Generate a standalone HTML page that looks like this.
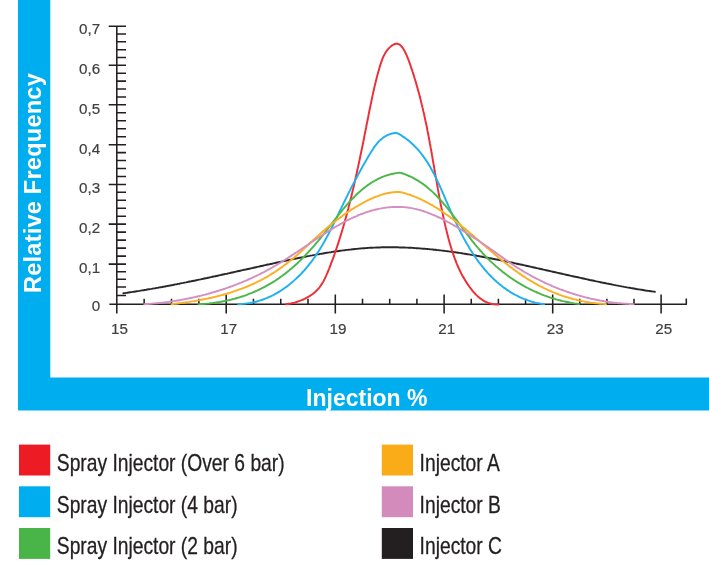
<!DOCTYPE html>
<html lang="en"><head><meta charset="utf-8"><title>Injection % distribution</title>
<style>
html,body{margin:0;padding:0;background:#fff;}
body{width:709px;height:575px;overflow:hidden;font-family:"Liberation Sans",Arial,sans-serif;}
svg{display:block}
.t{font-family:"Liberation Sans",Arial,sans-serif;fill:#404041;font-size:15.2px;stroke:#404041;stroke-width:0.2px}
.b{font-family:"Liberation Sans",Arial,sans-serif;fill:#fff;font-weight:bold}
.l{font-family:"Liberation Sans",Arial,sans-serif;fill:#231f20;font-size:24px;stroke:#231f20;stroke-width:0.3px}
.c{fill:none;stroke-width:1.95;stroke-linecap:round;stroke-linejoin:round}
.a{stroke:#231f20;stroke-width:1.55;fill:none}
</style></head><body>
<svg width="709" height="575" viewBox="0 0 709 575">
<defs><filter id="bl" filterUnits="userSpaceOnUse" x="-30" y="-30" width="769" height="635" color-interpolation-filters="sRGB"><feGaussianBlur stdDeviation="0.5"/></filter></defs>
<rect x="-30" y="-30" width="769" height="635" fill="#fff"/>
<g filter="url(#bl)">
<rect x="-30" y="-30" width="769" height="635" fill="#fff"/>
<path d="M18,-30H50.3V377.4H739V410.4H18Z" fill="#00adef"/>
<text class="b" font-size="23.6" letter-spacing="0.2" text-anchor="middle" transform="translate(41.2,183) rotate(-90)">Relative Frequency</text>
<text class="b" font-size="23" text-anchor="middle" x="366.8" y="405.8">Injection %</text>
<path class="a" d="M116.8,25.4V313.4M109.4,304.2H686.6M116.8,295.50H126M116.8,287.00H126M116.8,279.20H126M116.8,271.70H126M108.7,264.10H126M116.8,256.10H126M116.8,248.10H126M116.8,240.10H126M116.8,232.10H126M108.7,224.10H126M116.8,216.16H126M116.8,208.22H126M116.8,200.28H126M116.8,192.34H126M108.7,184.40H126M116.8,176.46H126M116.8,168.52H126M116.8,160.58H126M116.8,152.64H126M108.7,144.70H126M116.8,136.72H126M116.8,128.74H126M116.8,120.76H126M116.8,112.78H126M108.7,104.80H126M116.8,96.90H126M116.8,89.00H126M116.8,81.10H126M116.8,73.20H126M108.7,65.30H126M116.8,57.48H126M116.8,49.66H126M116.8,41.84H126M116.8,34.02H126M108.7,26.2H126M144.15,298.8V304.8M171.50,298.8V304.8M198.85,298.8V304.8M226.20,294.4V313.4M253.47,298.8V304.8M280.75,298.8V304.8M308.02,298.8V304.8M335.30,294.4V313.4M362.50,298.8V304.8M389.70,298.8V304.8M416.90,298.8V304.8M444.10,294.4V313.4M471.25,298.8V304.8M498.40,298.8V304.8M525.55,298.8V304.8M552.70,294.4V313.4M579.80,298.8V304.8M606.90,298.8V304.8M634.00,298.8V304.8M661.10,294.4V313.4M686.3,298.6V304.8"/>
<path class="c" stroke="#2b2728" d="M123.4,293.3 L124.7,293.1 L126.1,292.9 L127.4,292.7 L128.8,292.5 L130.1,292.3 L131.4,292.1 L132.8,291.9 L134.1,291.7 L135.4,291.5 L136.8,291.3 L138.1,291.1 L139.4,290.9 L140.8,290.6 L142.1,290.4 L143.5,290.2 L144.8,290.0 L146.1,289.8 L147.4,289.5 L148.8,289.3 L150.1,289.1 L151.4,288.9 L152.8,288.6 L154.1,288.4 L155.4,288.2 L156.8,287.9 L158.1,287.7 L159.4,287.4 L160.8,287.2 L162.1,287.0 L163.4,286.7 L164.7,286.5 L166.1,286.2 L167.4,286.0 L168.7,285.7 L170.0,285.5 L171.4,285.2 L172.7,285.0 L174.0,284.7 L175.4,284.4 L176.7,284.2 L178.0,283.9 L179.3,283.7 L180.7,283.4 L182.0,283.1 L183.3,282.9 L184.6,282.6 L186.0,282.4 L187.3,282.1 L188.6,281.8 L189.9,281.5 L191.2,281.3 L192.6,281.0 L193.9,280.7 L195.2,280.5 L196.5,280.2 L197.9,279.9 L199.2,279.6 L200.5,279.4 L201.8,279.1 L203.2,278.8 L204.5,278.5 L205.8,278.2 L207.1,278.0 L208.4,277.7 L209.8,277.4 L211.1,277.1 L212.4,276.8 L213.7,276.5 L215.1,276.3 L216.4,276.0 L217.7,275.7 L219.0,275.4 L220.4,275.1 L221.7,274.8 L223.0,274.5 L224.3,274.2 L225.6,273.9 L227.0,273.7 L228.3,273.4 L229.6,273.1 L230.9,272.8 L232.3,272.5 L233.6,272.2 L234.9,271.9 L236.2,271.6 L237.6,271.3 L238.9,271.0 L240.2,270.7 L241.5,270.4 L242.9,270.1 L244.2,269.8 L245.5,269.6 L246.8,269.3 L248.2,269.0 L249.5,268.7 L250.8,268.4 L252.1,268.1 L253.5,267.8 L254.8,267.5 L256.1,267.2 L257.4,266.9 L258.8,266.6 L260.1,266.3 L261.4,266.0 L262.8,265.7 L264.1,265.4 L265.4,265.1 L266.7,264.8 L268.1,264.5 L269.4,264.3 L270.7,264.0 L272.1,263.7 L273.4,263.4 L274.7,263.1 L276.1,262.8 L277.4,262.5 L278.7,262.2 L280.1,261.9 L281.4,261.6 L282.7,261.3 L284.1,261.1 L285.4,260.8 L286.7,260.5 L288.1,260.2 L289.4,259.9 L290.7,259.6 L292.1,259.4 L293.4,259.1 L294.7,258.8 L296.1,258.5 L297.4,258.3 L298.7,258.0 L300.1,257.7 L301.4,257.4 L302.8,257.2 L304.1,256.9 L305.4,256.7 L306.8,256.4 L308.1,256.1 L309.4,255.9 L310.8,255.6 L312.1,255.4 L313.5,255.1 L314.8,254.9 L316.1,254.6 L317.5,254.4 L318.8,254.2 L320.1,253.9 L321.5,253.7 L322.8,253.5 L324.2,253.2 L325.5,253.0 L326.8,252.8 L328.2,252.6 L329.5,252.4 L330.9,252.2 L332.2,251.9 L333.5,251.7 L334.9,251.5 L336.2,251.4 L337.6,251.2 L338.9,251.0 L340.3,250.8 L341.6,250.6 L342.9,250.4 L344.3,250.3 L345.6,250.1 L347.0,249.9 L348.3,249.8 L349.6,249.6 L351.0,249.5 L352.3,249.3 L353.7,249.2 L355.0,249.0 L356.3,248.9 L357.7,248.8 L359.0,248.6 L360.4,248.5 L361.7,248.4 L363.1,248.3 L364.4,248.2 L365.7,248.1 L367.1,248.0 L368.4,247.9 L369.8,247.8 L371.1,247.8 L372.4,247.7 L373.8,247.6 L375.1,247.6 L376.5,247.5 L377.8,247.5 L379.1,247.4 L380.5,247.4 L381.8,247.3 L383.2,247.3 L384.5,247.3 L385.8,247.3 L387.2,247.3 L388.5,247.3 L389.9,247.3 L391.2,247.3 L392.5,247.3 L393.9,247.3 L395.2,247.3 L396.6,247.3 L397.9,247.3 L399.2,247.4 L400.6,247.4 L401.9,247.4 L403.3,247.5 L404.6,247.5 L405.9,247.6 L407.3,247.6 L408.6,247.7 L410.0,247.8 L411.3,247.8 L412.6,247.9 L414.0,248.0 L415.3,248.1 L416.6,248.2 L418.0,248.3 L419.3,248.4 L420.7,248.5 L422.0,248.6 L423.3,248.7 L424.7,248.8 L426.0,248.9 L427.3,249.0 L428.7,249.1 L430.0,249.3 L431.4,249.4 L432.7,249.5 L434.0,249.7 L435.4,249.8 L436.7,250.0 L438.0,250.1 L439.4,250.3 L440.7,250.4 L442.1,250.6 L443.4,250.7 L444.7,250.9 L446.1,251.1 L447.4,251.2 L448.7,251.4 L450.1,251.6 L451.4,251.8 L452.8,252.0 L454.1,252.2 L455.4,252.3 L456.8,252.5 L458.1,252.7 L459.4,252.9 L460.8,253.1 L462.1,253.3 L463.4,253.6 L464.8,253.8 L466.1,254.0 L467.4,254.2 L468.8,254.4 L470.1,254.6 L471.5,254.9 L472.8,255.1 L474.1,255.3 L475.5,255.5 L476.8,255.8 L478.1,256.0 L479.5,256.3 L480.8,256.5 L482.1,256.7 L483.5,257.0 L484.8,257.2 L486.1,257.5 L487.5,257.7 L488.8,258.0 L490.1,258.2 L491.5,258.5 L492.8,258.8 L494.1,259.0 L495.5,259.3 L496.8,259.5 L498.1,259.8 L499.5,260.1 L500.8,260.3 L502.1,260.6 L503.5,260.9 L504.8,261.2 L506.1,261.4 L507.5,261.7 L508.8,262.0 L510.1,262.3 L511.5,262.5 L512.8,262.8 L514.1,263.1 L515.5,263.4 L516.8,263.7 L518.1,264.0 L519.5,264.3 L520.8,264.5 L522.1,264.8 L523.5,265.1 L524.8,265.4 L526.1,265.7 L527.4,266.0 L528.8,266.3 L530.1,266.6 L531.4,266.9 L532.8,267.2 L534.1,267.5 L535.4,267.8 L536.8,268.1 L538.1,268.4 L539.4,268.7 L540.8,269.0 L542.1,269.3 L543.4,269.6 L544.7,269.9 L546.1,270.2 L547.4,270.5 L548.7,270.8 L550.1,271.1 L551.4,271.4 L552.7,271.7 L554.1,272.0 L555.4,272.3 L556.7,272.6 L558.0,272.9 L559.4,273.2 L560.7,273.5 L562.0,273.8 L563.4,274.1 L564.7,274.4 L566.0,274.7 L567.3,275.0 L568.7,275.3 L570.0,275.6 L571.3,275.9 L572.7,276.2 L574.0,276.5 L575.3,276.8 L576.6,277.0 L578.0,277.3 L579.3,277.6 L580.6,277.9 L582.0,278.2 L583.3,278.5 L584.6,278.8 L585.9,279.1 L587.3,279.4 L588.6,279.7 L589.9,280.0 L591.2,280.2 L592.6,280.5 L593.9,280.8 L595.2,281.1 L596.6,281.4 L597.9,281.6 L599.2,281.9 L600.5,282.2 L601.9,282.5 L603.2,282.7 L604.5,283.0 L605.8,283.3 L607.2,283.6 L608.5,283.8 L609.8,284.1 L611.1,284.3 L612.5,284.6 L613.8,284.9 L615.1,285.1 L616.4,285.4 L617.8,285.6 L619.1,285.9 L620.4,286.1 L621.7,286.4 L623.1,286.6 L624.4,286.9 L625.7,287.1 L627.0,287.4 L628.3,287.6 L629.7,287.8 L631.0,288.1 L632.3,288.3 L633.6,288.5 L635.0,288.7 L636.3,289.0 L637.6,289.2 L638.9,289.4 L640.3,289.6 L641.6,289.8 L642.9,290.0 L644.2,290.2 L645.5,290.5 L646.9,290.7 L648.2,290.9 L649.5,291.0 L650.8,291.2 L652.2,291.4 L653.5,291.6 L654.8,291.8"/>
<path class="c" stroke="#ee2d37" d="M286.2,304.2 L287.6,304.0 L288.9,303.8 L290.3,303.6 L291.7,303.3 L293.2,302.9 L294.6,302.6 L296.0,302.1 L297.5,301.7 L298.9,301.2 L300.3,300.7 L301.8,300.1 L303.2,299.5 L304.6,298.9 L305.9,298.2 L307.3,297.4 L308.6,296.7 L309.9,295.9 L311.2,295.0 L312.4,294.2 L313.6,293.3 L314.8,292.3 L315.9,291.3 L316.9,290.3 L317.9,289.2 L318.9,288.1 L319.8,287.0 L320.6,285.8 L321.4,284.6 L322.2,283.4 L323.0,282.1 L323.7,280.9 L324.3,279.6 L325.0,278.2 L325.6,276.9 L326.2,275.6 L326.8,274.2 L327.4,272.9 L328.0,271.5 L328.5,270.1 L329.1,268.8 L329.6,267.4 L330.2,266.0 L330.7,264.6 L331.2,263.2 L331.7,261.8 L332.2,260.5 L332.8,259.1 L333.3,257.7 L333.8,256.3 L334.3,254.9 L334.8,253.5 L335.2,252.1 L335.7,250.7 L336.2,249.3 L336.7,247.9 L337.1,246.5 L337.6,245.1 L338.1,243.7 L338.5,242.3 L339.0,240.9 L339.4,239.5 L339.9,238.1 L340.3,236.6 L340.8,235.2 L341.2,233.8 L341.6,232.4 L342.0,231.0 L342.5,229.6 L342.9,228.1 L343.3,226.7 L343.7,225.3 L344.1,223.9 L344.5,222.5 L344.9,221.0 L345.3,219.6 L345.7,218.2 L346.1,216.8 L346.5,215.3 L346.9,213.9 L347.2,212.5 L347.6,211.0 L348.0,209.6 L348.4,208.2 L348.7,206.7 L349.1,205.3 L349.5,203.9 L349.8,202.4 L350.2,201.0 L350.5,199.6 L350.9,198.1 L351.3,196.7 L351.6,195.3 L351.9,193.8 L352.3,192.4 L352.6,190.9 L353.0,189.5 L353.3,188.1 L353.7,186.6 L354.0,185.2 L354.3,183.7 L354.6,182.3 L355.0,180.8 L355.3,179.4 L355.6,178.0 L355.9,176.5 L356.3,175.1 L356.6,173.6 L356.9,172.2 L357.2,170.7 L357.5,169.3 L357.9,167.8 L358.2,166.4 L358.5,164.9 L358.8,163.5 L359.1,162.0 L359.4,160.6 L359.7,159.2 L360.0,157.7 L360.3,156.3 L360.6,154.8 L360.9,153.4 L361.2,151.9 L361.5,150.5 L361.8,149.0 L362.1,147.6 L362.4,146.1 L362.7,144.7 L363.0,143.2 L363.3,141.8 L363.6,140.3 L363.9,138.9 L364.1,137.4 L364.4,135.9 L364.7,134.5 L365.0,133.0 L365.3,131.6 L365.6,130.1 L365.9,128.7 L366.2,127.2 L366.4,125.8 L366.7,124.3 L367.0,122.9 L367.3,121.4 L367.6,120.0 L367.9,118.5 L368.2,117.1 L368.5,115.6 L368.7,114.2 L369.0,112.7 L369.3,111.3 L369.6,109.8 L369.9,108.4 L370.2,106.9 L370.5,105.5 L370.8,104.1 L371.1,102.6 L371.4,101.2 L371.7,99.7 L372.0,98.3 L372.3,96.8 L372.6,95.4 L372.9,93.9 L373.2,92.5 L373.5,91.0 L373.9,89.6 L374.2,88.2 L374.5,86.7 L374.9,85.3 L375.2,83.8 L375.6,82.4 L375.9,81.0 L376.3,79.5 L376.7,78.1 L377.0,76.6 L377.4,75.2 L377.8,73.8 L378.2,72.3 L378.6,70.9 L379.0,69.5 L379.4,68.0 L379.8,66.6 L380.3,65.2 L380.7,63.7 L381.2,62.3 L381.7,60.9 L382.2,59.5 L382.7,58.1 L383.3,56.8 L384.0,55.4 L384.7,54.1 L385.4,52.8 L386.2,51.5 L387.1,50.3 L388.1,49.1 L389.2,47.9 L390.3,46.9 L391.4,45.9 L392.6,45.1 L393.8,44.5 L395.0,44.0 L396.2,43.8 L397.4,43.8 L398.6,44.1 L399.7,44.7 L400.7,45.5 L401.7,46.6 L402.7,47.9 L403.6,49.3 L404.4,50.7 L405.1,52.1 L405.8,53.5 L406.5,54.9 L407.1,56.3 L407.6,57.7 L408.2,59.1 L408.7,60.5 L409.2,61.9 L409.7,63.2 L410.2,64.6 L410.7,66.0 L411.1,67.4 L411.6,68.8 L412.1,70.2 L412.5,71.6 L413.0,73.0 L413.4,74.4 L413.9,75.8 L414.3,77.2 L414.7,78.6 L415.2,80.0 L415.6,81.4 L416.0,82.8 L416.4,84.3 L416.8,85.7 L417.2,87.1 L417.6,88.5 L418.0,90.0 L418.4,91.4 L418.8,92.8 L419.2,94.2 L419.6,95.7 L419.9,97.1 L420.3,98.5 L420.7,100.0 L421.0,101.4 L421.4,102.9 L421.7,104.3 L422.1,105.7 L422.4,107.2 L422.8,108.6 L423.1,110.1 L423.4,111.5 L423.8,113.0 L424.1,114.4 L424.4,115.9 L424.7,117.3 L425.0,118.8 L425.3,120.2 L425.7,121.7 L426.0,123.1 L426.3,124.6 L426.6,126.0 L426.9,127.5 L427.2,129.0 L427.4,130.4 L427.7,131.9 L428.0,133.3 L428.3,134.8 L428.6,136.2 L428.9,137.7 L429.1,139.2 L429.4,140.6 L429.7,142.1 L429.9,143.5 L430.2,145.0 L430.5,146.4 L430.7,147.9 L431.0,149.4 L431.3,150.8 L431.5,152.3 L431.8,153.7 L432.0,155.2 L432.3,156.6 L432.5,158.1 L432.8,159.6 L433.0,161.0 L433.3,162.5 L433.5,163.9 L433.8,165.4 L434.0,166.8 L434.3,168.3 L434.5,169.8 L434.8,171.2 L435.0,172.7 L435.3,174.1 L435.5,175.6 L435.8,177.0 L436.0,178.5 L436.3,180.0 L436.6,181.4 L436.8,182.9 L437.1,184.3 L437.3,185.8 L437.6,187.2 L437.8,188.7 L438.1,190.1 L438.4,191.6 L438.6,193.0 L438.9,194.5 L439.2,196.0 L439.4,197.4 L439.7,198.9 L440.0,200.3 L440.3,201.8 L440.5,203.2 L440.8,204.7 L441.1,206.1 L441.4,207.6 L441.7,209.0 L442.0,210.5 L442.3,211.9 L442.6,213.4 L442.9,214.8 L443.2,216.2 L443.5,217.7 L443.8,219.1 L444.1,220.6 L444.5,222.0 L444.8,223.5 L445.1,224.9 L445.5,226.4 L445.8,227.8 L446.2,229.3 L446.5,230.7 L446.9,232.1 L447.2,233.6 L447.6,235.0 L448.0,236.5 L448.3,237.9 L448.7,239.3 L449.1,240.8 L449.5,242.2 L449.9,243.6 L450.3,245.1 L450.8,246.5 L451.2,247.9 L451.6,249.3 L452.1,250.7 L452.5,252.2 L453.0,253.6 L453.5,255.0 L454.0,256.4 L454.5,257.8 L455.0,259.1 L455.5,260.5 L456.1,261.9 L456.6,263.3 L457.2,264.6 L457.7,266.0 L458.3,267.3 L459.0,268.7 L459.6,270.0 L460.2,271.3 L460.9,272.7 L461.5,274.0 L462.2,275.3 L462.9,276.6 L463.7,277.8 L464.4,279.1 L465.2,280.4 L466.0,281.6 L466.8,282.9 L467.6,284.1 L468.4,285.3 L469.3,286.6 L470.1,287.7 L471.1,288.9 L472.0,290.1 L472.9,291.3 L473.9,292.4 L474.9,293.5 L475.9,294.6 L477.0,295.6 L478.0,296.6 L479.2,297.5 L480.3,298.4 L481.5,299.3 L482.7,300.1 L483.9,300.9 L485.2,301.6 L486.5,302.2 L487.8,302.7 L489.2,303.2 L490.7,303.6 L492.1,304.0 L493.6,304.2 L495.2,304.4 L496.8,304.4 L498.4,304.4"/>
<path class="c" stroke="#1fb1ee" d="M238.2,304.2 L239.7,304.1 L241.2,304.1 L242.7,303.9 L244.2,303.8 L245.7,303.6 L247.2,303.4 L248.6,303.2 L250.1,303.0 L251.6,302.7 L253.1,302.4 L254.5,302.0 L256.0,301.7 L257.4,301.3 L258.9,300.9 L260.3,300.4 L261.7,300.0 L263.1,299.5 L264.5,298.9 L265.9,298.4 L267.3,297.8 L268.7,297.2 L270.1,296.6 L271.4,296.0 L272.8,295.3 L274.1,294.6 L275.4,293.9 L276.7,293.2 L278.0,292.4 L279.3,291.6 L280.6,290.8 L281.8,290.0 L283.1,289.2 L284.3,288.3 L285.5,287.5 L286.7,286.6 L287.9,285.7 L289.1,284.7 L290.3,283.8 L291.5,282.8 L292.6,281.9 L293.7,280.9 L294.8,279.9 L295.9,278.9 L297.0,277.8 L298.1,276.8 L299.2,275.7 L300.2,274.7 L301.3,273.6 L302.3,272.5 L303.3,271.4 L304.3,270.3 L305.3,269.1 L306.3,268.0 L307.2,266.9 L308.2,265.7 L309.1,264.5 L310.1,263.4 L311.0,262.2 L311.9,261.0 L312.8,259.8 L313.6,258.5 L314.5,257.3 L315.4,256.1 L316.2,254.8 L317.0,253.6 L317.9,252.3 L318.7,251.1 L319.5,249.8 L320.3,248.5 L321.0,247.2 L321.8,246.0 L322.6,244.7 L323.3,243.4 L324.1,242.1 L324.8,240.8 L325.5,239.5 L326.3,238.1 L327.0,236.8 L327.7,235.5 L328.4,234.2 L329.1,232.8 L329.8,231.5 L330.5,230.2 L331.1,228.8 L331.8,227.5 L332.5,226.2 L333.2,224.8 L333.8,223.5 L334.5,222.1 L335.1,220.8 L335.8,219.4 L336.4,218.1 L337.1,216.7 L337.7,215.4 L338.4,214.0 L339.0,212.7 L339.7,211.3 L340.3,210.0 L341.0,208.6 L341.6,207.3 L342.3,205.9 L342.9,204.6 L343.6,203.2 L344.2,201.9 L344.9,200.5 L345.6,199.2 L346.2,197.8 L346.9,196.5 L347.6,195.1 L348.2,193.8 L348.9,192.4 L349.6,191.1 L350.2,189.8 L350.9,188.4 L351.6,187.1 L352.3,185.8 L353.0,184.4 L353.7,183.1 L354.4,181.8 L355.1,180.4 L355.8,179.1 L356.5,177.8 L357.2,176.5 L357.9,175.1 L358.6,173.8 L359.3,172.5 L360.0,171.2 L360.7,169.9 L361.5,168.6 L362.2,167.2 L362.9,165.9 L363.7,164.6 L364.4,163.3 L365.2,162.0 L365.9,160.7 L366.7,159.4 L367.4,158.1 L368.2,156.8 L368.9,155.5 L369.7,154.3 L370.5,153.0 L371.3,151.7 L372.1,150.4 L372.9,149.2 L373.7,147.9 L374.6,146.7 L375.5,145.5 L376.4,144.3 L377.3,143.1 L378.3,142.0 L379.4,140.9 L380.4,139.9 L381.6,138.9 L382.7,138.0 L384.0,137.1 L385.2,136.3 L386.5,135.6 L387.9,134.9 L389.3,134.4 L390.7,133.9 L392.2,133.5 L393.6,133.2 L395.1,133.0 L396.5,133.0 L397.9,133.5 L399.2,134.2 L400.5,134.9 L401.8,135.7 L403.0,136.6 L404.3,137.4 L405.5,138.3 L406.7,139.2 L407.9,140.1 L409.1,141.0 L410.2,142.0 L411.3,143.0 L412.4,144.0 L413.5,145.0 L414.6,146.1 L415.6,147.2 L416.7,148.3 L417.7,149.4 L418.7,150.5 L419.6,151.6 L420.6,152.8 L421.5,154.0 L422.4,155.2 L423.3,156.4 L424.2,157.6 L425.0,158.8 L425.9,160.1 L426.7,161.3 L427.5,162.6 L428.3,163.9 L429.1,165.1 L429.9,166.4 L430.6,167.7 L431.3,169.0 L432.1,170.4 L432.8,171.7 L433.5,173.0 L434.2,174.3 L434.9,175.7 L435.5,177.0 L436.2,178.4 L436.8,179.7 L437.5,181.1 L438.1,182.4 L438.8,183.8 L439.4,185.1 L440.0,186.5 L440.6,187.9 L441.2,189.2 L441.8,190.6 L442.4,192.0 L443.0,193.4 L443.6,194.7 L444.2,196.1 L444.8,197.5 L445.4,198.9 L446.0,200.3 L446.6,201.6 L447.2,203.0 L447.8,204.4 L448.4,205.8 L449.0,207.1 L449.6,208.5 L450.2,209.9 L450.8,211.3 L451.4,212.6 L452.0,214.0 L452.6,215.4 L453.2,216.7 L453.9,218.1 L454.5,219.5 L455.1,220.8 L455.8,222.2 L456.4,223.5 L457.0,224.9 L457.7,226.2 L458.4,227.6 L459.0,228.9 L459.7,230.3 L460.4,231.6 L461.0,233.0 L461.7,234.3 L462.4,235.6 L463.1,236.9 L463.8,238.3 L464.5,239.6 L465.3,240.9 L466.0,242.2 L466.7,243.5 L467.5,244.8 L468.3,246.1 L469.0,247.4 L469.8,248.7 L470.6,249.9 L471.4,251.2 L472.2,252.5 L473.0,253.7 L473.8,255.0 L474.7,256.2 L475.5,257.5 L476.4,258.7 L477.2,259.9 L478.1,261.1 L479.0,262.3 L479.9,263.5 L480.8,264.7 L481.8,265.9 L482.7,267.1 L483.7,268.2 L484.6,269.4 L485.6,270.5 L486.6,271.6 L487.6,272.8 L488.6,273.9 L489.6,275.0 L490.7,276.0 L491.7,277.1 L492.8,278.1 L493.9,279.2 L495.0,280.2 L496.1,281.2 L497.2,282.2 L498.4,283.2 L499.5,284.2 L500.7,285.1 L501.8,286.0 L503.0,287.0 L504.2,287.9 L505.5,288.7 L506.7,289.6 L507.9,290.4 L509.2,291.3 L510.4,292.1 L511.7,292.8 L513.0,293.6 L514.3,294.3 L515.6,295.0 L517.0,295.7 L518.3,296.4 L519.7,297.1 L521.0,297.7 L522.4,298.3 L523.8,298.9 L525.2,299.4 L526.6,299.9 L528.0,300.4 L529.4,300.9 L530.9,301.4 L532.3,301.8 L533.7,302.2 L535.2,302.6 L536.7,302.9 L538.1,303.2 L539.6,303.5 L541.1,303.8 L542.6,304.0 L544.0,304.2"/>
<path class="c" stroke="#4bb749" d="M198.5,304.2 L200.0,304.1 L201.5,304.1 L203.0,304.0 L204.5,303.9 L206.0,303.7 L207.5,303.6 L209.0,303.5 L210.5,303.3 L212.0,303.1 L213.4,302.9 L214.9,302.7 L216.4,302.5 L217.9,302.3 L219.4,302.1 L220.9,301.8 L222.3,301.5 L223.8,301.2 L225.3,300.9 L226.7,300.6 L228.2,300.3 L229.7,300.0 L231.1,299.6 L232.6,299.2 L234.0,298.9 L235.5,298.5 L236.9,298.0 L238.3,297.6 L239.8,297.2 L241.2,296.7 L242.6,296.3 L244.1,295.8 L245.5,295.3 L246.9,294.8 L248.3,294.2 L249.7,293.7 L251.1,293.2 L252.5,292.6 L253.9,292.0 L255.2,291.4 L256.6,290.8 L258.0,290.2 L259.3,289.5 L260.7,288.9 L262.0,288.2 L263.4,287.5 L264.7,286.9 L266.0,286.1 L267.3,285.4 L268.6,284.7 L269.9,283.9 L271.2,283.2 L272.5,282.4 L273.8,281.6 L275.0,280.8 L276.3,280.0 L277.5,279.1 L278.8,278.3 L280.0,277.4 L281.2,276.5 L282.4,275.7 L283.6,274.8 L284.8,273.9 L286.0,272.9 L287.2,272.0 L288.4,271.1 L289.5,270.1 L290.7,269.1 L291.8,268.2 L292.9,267.2 L294.1,266.2 L295.2,265.2 L296.3,264.2 L297.4,263.2 L298.5,262.1 L299.6,261.1 L300.6,260.1 L301.7,259.0 L302.8,257.9 L303.8,256.9 L304.9,255.8 L305.9,254.7 L306.9,253.6 L308.0,252.5 L309.0,251.4 L310.0,250.3 L311.0,249.2 L312.0,248.1 L313.0,247.0 L314.0,245.8 L315.0,244.7 L315.9,243.6 L316.9,242.4 L317.9,241.3 L318.8,240.1 L319.8,239.0 L320.7,237.8 L321.7,236.6 L322.6,235.4 L323.5,234.3 L324.4,233.1 L325.4,231.9 L326.3,230.7 L327.2,229.5 L328.1,228.3 L329.0,227.2 L330.0,226.0 L330.9,224.8 L331.8,223.6 L332.7,222.4 L333.6,221.2 L334.5,220.0 L335.5,218.8 L336.4,217.7 L337.3,216.5 L338.2,215.3 L339.2,214.1 L340.1,213.0 L341.0,211.8 L342.0,210.6 L342.9,209.5 L343.9,208.3 L344.8,207.2 L345.8,206.0 L346.8,204.9 L347.8,203.7 L348.8,202.6 L349.8,201.5 L350.8,200.4 L351.8,199.3 L352.9,198.2 L353.9,197.2 L355.0,196.1 L356.0,195.0 L357.1,194.0 L358.2,193.0 L359.3,192.0 L360.5,191.0 L361.6,190.0 L362.7,189.0 L363.9,188.1 L365.1,187.2 L366.3,186.3 L367.5,185.4 L368.7,184.5 L370.0,183.7 L371.2,182.8 L372.5,182.0 L373.8,181.3 L375.1,180.5 L376.4,179.8 L377.7,179.1 L379.1,178.5 L380.4,177.8 L381.8,177.2 L383.2,176.7 L384.6,176.2 L386.0,175.7 L387.4,175.2 L388.9,174.8 L390.3,174.4 L391.8,174.0 L393.2,173.7 L394.7,173.4 L396.2,173.1 L397.7,172.9 L399.1,172.8 L400.6,172.9 L402.0,173.3 L403.5,173.7 L404.9,174.2 L406.3,174.8 L407.7,175.4 L409.0,176.0 L410.4,176.6 L411.8,177.2 L413.1,177.9 L414.4,178.6 L415.7,179.3 L417.0,180.1 L418.3,180.9 L419.6,181.7 L420.8,182.5 L422.0,183.4 L423.3,184.2 L424.5,185.1 L425.7,186.0 L426.8,187.0 L428.0,187.9 L429.1,188.9 L430.3,189.9 L431.4,190.9 L432.5,191.9 L433.6,192.9 L434.7,194.0 L435.7,195.0 L436.8,196.1 L437.8,197.2 L438.9,198.3 L439.9,199.4 L440.9,200.5 L441.9,201.6 L442.9,202.7 L443.8,203.9 L444.8,205.0 L445.8,206.2 L446.7,207.3 L447.7,208.5 L448.6,209.7 L449.5,210.8 L450.5,212.0 L451.4,213.2 L452.3,214.4 L453.2,215.6 L454.1,216.8 L455.0,218.0 L455.9,219.2 L456.8,220.4 L457.7,221.6 L458.6,222.8 L459.5,224.0 L460.4,225.2 L461.3,226.4 L462.2,227.6 L463.0,228.8 L463.9,230.0 L464.8,231.2 L465.7,232.4 L466.6,233.6 L467.5,234.8 L468.4,236.0 L469.4,237.2 L470.3,238.4 L471.2,239.6 L472.1,240.8 L473.0,241.9 L474.0,243.1 L474.9,244.3 L475.9,245.4 L476.8,246.6 L477.8,247.7 L478.8,248.9 L479.8,250.0 L480.8,251.1 L481.8,252.2 L482.8,253.4 L483.8,254.5 L484.8,255.5 L485.9,256.6 L486.9,257.7 L488.0,258.8 L489.0,259.8 L490.1,260.9 L491.2,261.9 L492.3,262.9 L493.4,263.9 L494.5,264.9 L495.6,265.9 L496.8,266.9 L497.9,267.9 L499.0,268.9 L500.2,269.8 L501.4,270.8 L502.5,271.7 L503.7,272.6 L504.9,273.5 L506.1,274.5 L507.3,275.3 L508.5,276.2 L509.7,277.1 L511.0,278.0 L512.2,278.8 L513.5,279.6 L514.7,280.5 L516.0,281.3 L517.2,282.1 L518.5,282.9 L519.8,283.6 L521.1,284.4 L522.4,285.1 L523.7,285.9 L525.0,286.6 L526.3,287.3 L527.7,288.0 L529.0,288.7 L530.3,289.4 L531.7,290.0 L533.0,290.7 L534.4,291.3 L535.8,291.9 L537.1,292.5 L538.5,293.1 L539.9,293.7 L541.3,294.3 L542.7,294.8 L544.1,295.4 L545.5,295.9 L546.9,296.4 L548.3,296.9 L549.7,297.4 L551.2,297.8 L552.6,298.3 L554.0,298.7 L555.5,299.2 L556.9,299.6 L558.4,300.0 L559.8,300.3 L561.3,300.7 L562.7,301.1 L564.2,301.4 L565.6,301.7 L567.1,302.0 L568.6,302.3 L570.1,302.6 L571.5,302.9 L573.0,303.1 L574.5,303.4 L576.0,303.6 L577.5,303.8 L578.9,304.0"/>
<path class="c" stroke="#fbaf21" d="M171.6,304.2 L173.1,304.0 L174.6,303.9 L176.1,303.7 L177.6,303.5 L179.0,303.3 L180.5,303.1 L182.0,302.9 L183.5,302.7 L185.0,302.5 L186.5,302.3 L188.0,302.1 L189.4,301.9 L190.9,301.6 L192.4,301.4 L193.9,301.2 L195.4,300.9 L196.8,300.6 L198.3,300.4 L199.8,300.1 L201.3,299.8 L202.7,299.5 L204.2,299.2 L205.7,298.9 L207.2,298.6 L208.6,298.3 L210.1,298.0 L211.5,297.7 L213.0,297.3 L214.5,297.0 L215.9,296.6 L217.4,296.3 L218.8,295.9 L220.3,295.5 L221.7,295.1 L223.2,294.7 L224.6,294.3 L226.1,293.9 L227.5,293.5 L228.9,293.0 L230.4,292.6 L231.8,292.1 L233.2,291.7 L234.6,291.2 L236.1,290.7 L237.5,290.2 L238.9,289.7 L240.3,289.2 L241.7,288.7 L243.1,288.1 L244.5,287.6 L245.9,287.0 L247.3,286.5 L248.7,285.9 L250.0,285.3 L251.4,284.7 L252.8,284.1 L254.2,283.5 L255.5,282.8 L256.9,282.2 L258.2,281.5 L259.6,280.8 L260.9,280.2 L262.2,279.5 L263.5,278.8 L264.9,278.0 L266.2,277.3 L267.5,276.5 L268.8,275.8 L270.0,275.0 L271.3,274.2 L272.6,273.4 L273.9,272.6 L275.1,271.8 L276.4,271.0 L277.6,270.1 L278.8,269.3 L280.1,268.4 L281.3,267.6 L282.5,266.7 L283.7,265.8 L284.9,264.9 L286.1,264.0 L287.3,263.1 L288.5,262.1 L289.6,261.2 L290.8,260.3 L292.0,259.3 L293.1,258.4 L294.3,257.4 L295.4,256.4 L296.6,255.4 L297.7,254.5 L298.8,253.5 L299.9,252.5 L301.0,251.5 L302.2,250.5 L303.3,249.4 L304.4,248.4 L305.5,247.4 L306.6,246.4 L307.7,245.4 L308.8,244.3 L309.8,243.3 L310.9,242.3 L312.0,241.3 L313.1,240.2 L314.2,239.2 L315.3,238.2 L316.4,237.2 L317.5,236.2 L318.7,235.2 L319.8,234.2 L320.9,233.2 L322.0,232.2 L323.1,231.2 L324.3,230.2 L325.4,229.2 L326.6,228.3 L327.7,227.3 L328.9,226.3 L330.0,225.4 L331.2,224.4 L332.3,223.5 L333.5,222.5 L334.7,221.6 L335.9,220.7 L337.1,219.8 L338.3,218.9 L339.5,218.0 L340.7,217.1 L341.9,216.2 L343.1,215.3 L344.3,214.4 L345.5,213.6 L346.8,212.7 L348.0,211.9 L349.3,211.1 L350.5,210.2 L351.8,209.4 L353.1,208.6 L354.3,207.8 L355.6,207.0 L356.9,206.3 L358.2,205.5 L359.5,204.8 L360.8,204.0 L362.1,203.3 L363.4,202.6 L364.7,201.9 L366.1,201.2 L367.4,200.5 L368.8,199.9 L370.1,199.2 L371.5,198.6 L372.9,198.0 L374.2,197.4 L375.6,196.8 L377.0,196.3 L378.4,195.8 L379.8,195.3 L381.3,194.8 L382.7,194.4 L384.1,194.0 L385.6,193.6 L387.1,193.3 L388.5,193.0 L390.0,192.7 L391.5,192.5 L393.0,192.3 L394.5,192.1 L396.0,192.0 L397.4,192.0 L398.9,192.0 L400.4,192.2 L401.9,192.4 L403.3,192.8 L404.8,193.2 L406.2,193.6 L407.6,194.1 L409.0,194.5 L410.5,195.0 L411.9,195.6 L413.3,196.1 L414.7,196.7 L416.1,197.2 L417.4,197.8 L418.8,198.4 L420.2,199.0 L421.5,199.7 L422.9,200.3 L424.2,201.0 L425.6,201.6 L426.9,202.3 L428.2,203.0 L429.5,203.8 L430.8,204.5 L432.1,205.2 L433.4,206.0 L434.7,206.8 L436.0,207.5 L437.3,208.3 L438.6,209.1 L439.8,210.0 L441.1,210.8 L442.3,211.6 L443.6,212.5 L444.8,213.3 L446.0,214.2 L447.2,215.0 L448.5,215.9 L449.7,216.8 L450.9,217.7 L452.1,218.6 L453.3,219.5 L454.5,220.4 L455.7,221.3 L456.8,222.2 L458.0,223.2 L459.2,224.1 L460.4,225.0 L461.5,226.0 L462.7,226.9 L463.8,227.9 L465.0,228.8 L466.2,229.8 L467.3,230.8 L468.5,231.7 L469.6,232.7 L470.7,233.7 L471.9,234.6 L473.0,235.6 L474.2,236.6 L475.3,237.6 L476.4,238.6 L477.6,239.5 L478.7,240.5 L479.8,241.5 L481.0,242.5 L482.1,243.5 L483.2,244.4 L484.4,245.4 L485.5,246.4 L486.6,247.4 L487.8,248.4 L488.9,249.4 L490.0,250.3 L491.2,251.3 L492.3,252.3 L493.5,253.2 L494.6,254.2 L495.8,255.2 L496.9,256.1 L498.1,257.1 L499.2,258.1 L500.4,259.0 L501.5,260.0 L502.7,260.9 L503.9,261.8 L505.0,262.8 L506.2,263.7 L507.4,264.6 L508.6,265.6 L509.8,266.5 L511.0,267.4 L512.2,268.3 L513.4,269.2 L514.6,270.1 L515.8,271.0 L517.0,271.8 L518.2,272.7 L519.5,273.6 L520.7,274.4 L521.9,275.3 L523.2,276.1 L524.4,276.9 L525.7,277.7 L526.9,278.5 L528.2,279.3 L529.5,280.1 L530.8,280.9 L532.1,281.7 L533.4,282.4 L534.7,283.2 L536.0,283.9 L537.3,284.6 L538.6,285.4 L539.9,286.1 L541.3,286.7 L542.6,287.4 L543.9,288.1 L545.3,288.7 L546.7,289.4 L548.0,290.0 L549.4,290.6 L550.8,291.2 L552.1,291.8 L553.5,292.4 L554.9,292.9 L556.3,293.5 L557.7,294.0 L559.1,294.6 L560.5,295.1 L561.9,295.6 L563.4,296.1 L564.8,296.5 L566.2,297.0 L567.6,297.4 L569.1,297.9 L570.5,298.3 L572.0,298.7 L573.4,299.1 L574.9,299.4 L576.3,299.8 L577.8,300.2 L579.2,300.5 L580.7,300.8 L582.2,301.1 L583.6,301.4 L585.1,301.7 L586.6,301.9 L588.1,302.2 L589.6,302.4 L591.0,302.6 L592.5,302.9 L594.0,303.0 L595.5,303.2 L597.0,303.4 L598.5,303.5 L600.0,303.7 L601.5,303.8 L603.0,303.9 L604.5,304.0 L606.0,304.1"/>
<path class="c" stroke="#d38fc0" d="M144.3,304.2 L145.6,304.1 L147.0,304.0 L148.3,304.0 L149.6,303.9 L150.9,303.8 L152.3,303.6 L153.6,303.5 L154.9,303.4 L156.3,303.3 L157.6,303.2 L158.9,303.0 L160.3,302.9 L161.6,302.7 L162.9,302.6 L164.3,302.4 L165.6,302.3 L166.9,302.1 L168.2,301.9 L169.6,301.7 L170.9,301.5 L172.2,301.3 L173.6,301.1 L174.9,300.9 L176.2,300.7 L177.5,300.5 L178.9,300.3 L180.2,300.1 L181.5,299.8 L182.8,299.6 L184.2,299.3 L185.5,299.1 L186.8,298.8 L188.1,298.6 L189.5,298.3 L190.8,298.0 L192.1,297.7 L193.4,297.4 L194.7,297.1 L196.0,296.8 L197.4,296.5 L198.7,296.2 L200.0,295.9 L201.3,295.6 L202.6,295.3 L203.9,294.9 L205.2,294.6 L206.5,294.2 L207.8,293.9 L209.1,293.5 L210.4,293.2 L211.7,292.8 L213.0,292.4 L214.3,292.0 L215.6,291.6 L216.9,291.2 L218.2,290.8 L219.5,290.4 L220.7,290.0 L222.0,289.6 L223.3,289.2 L224.6,288.8 L225.9,288.3 L227.1,287.9 L228.4,287.4 L229.7,287.0 L230.9,286.5 L232.2,286.1 L233.5,285.6 L234.7,285.1 L236.0,284.6 L237.2,284.2 L238.5,283.7 L239.7,283.2 L241.0,282.7 L242.2,282.2 L243.4,281.6 L244.7,281.1 L245.9,280.6 L247.1,280.1 L248.4,279.5 L249.6,279.0 L250.8,278.4 L252.0,277.9 L253.2,277.3 L254.5,276.7 L255.7,276.2 L256.9,275.6 L258.1,275.0 L259.3,274.4 L260.5,273.8 L261.6,273.2 L262.8,272.6 L264.0,272.0 L265.2,271.3 L266.4,270.7 L267.5,270.1 L268.7,269.4 L269.9,268.8 L271.0,268.2 L272.2,267.5 L273.3,266.8 L274.5,266.2 L275.6,265.5 L276.8,264.8 L277.9,264.1 L279.0,263.5 L280.2,262.8 L281.3,262.1 L282.4,261.4 L283.6,260.7 L284.7,260.0 L285.8,259.2 L286.9,258.5 L288.1,257.8 L289.2,257.1 L290.3,256.4 L291.4,255.6 L292.5,254.9 L293.6,254.2 L294.7,253.4 L295.9,252.7 L297.0,252.0 L298.1,251.2 L299.2,250.5 L300.3,249.7 L301.4,249.0 L302.5,248.2 L303.6,247.5 L304.7,246.7 L305.9,246.0 L307.0,245.2 L308.1,244.5 L309.2,243.7 L310.3,243.0 L311.4,242.2 L312.6,241.5 L313.7,240.7 L314.8,240.0 L316.0,239.2 L317.1,238.5 L318.2,237.7 L319.4,237.0 L320.5,236.2 L321.6,235.5 L322.8,234.7 L323.9,234.0 L325.1,233.3 L326.2,232.5 L327.4,231.8 L328.5,231.1 L329.7,230.4 L330.9,229.6 L332.0,228.9 L333.2,228.2 L334.4,227.5 L335.5,226.8 L336.7,226.2 L337.9,225.5 L339.1,224.8 L340.3,224.1 L341.4,223.5 L342.6,222.8 L343.8,222.2 L345.0,221.5 L346.2,220.9 L347.4,220.3 L348.6,219.7 L349.9,219.1 L351.1,218.5 L352.3,217.9 L353.5,217.4 L354.7,216.8 L356.0,216.3 L357.2,215.8 L358.4,215.2 L359.7,214.7 L360.9,214.2 L362.2,213.8 L363.4,213.3 L364.7,212.8 L365.9,212.4 L367.2,212.0 L368.4,211.6 L369.7,211.2 L371.0,210.8 L372.3,210.4 L373.5,210.1 L374.8,209.8 L376.1,209.5 L377.4,209.2 L378.7,208.9 L380.0,208.6 L381.3,208.4 L382.6,208.1 L383.9,207.9 L385.2,207.7 L386.5,207.6 L387.9,207.4 L389.2,207.3 L390.5,207.2 L391.8,207.1 L393.1,207.0 L394.4,206.9 L395.8,206.9 L397.1,206.9 L398.4,206.9 L399.7,206.9 L401.0,207.0 L402.3,207.0 L403.7,207.1 L405.0,207.2 L406.3,207.4 L407.6,207.5 L408.9,207.7 L410.2,207.9 L411.5,208.1 L412.8,208.4 L414.1,208.6 L415.4,208.9 L416.7,209.2 L418.0,209.6 L419.3,209.9 L420.5,210.3 L421.8,210.6 L423.1,211.0 L424.4,211.5 L425.6,211.9 L426.9,212.3 L428.2,212.8 L429.4,213.3 L430.7,213.8 L431.9,214.3 L433.2,214.8 L434.4,215.3 L435.7,215.9 L436.9,216.5 L438.1,217.0 L439.4,217.6 L440.6,218.2 L441.8,218.8 L443.0,219.4 L444.3,220.1 L445.5,220.7 L446.7,221.3 L447.9,222.0 L449.1,222.6 L450.3,223.3 L451.5,224.0 L452.7,224.6 L453.9,225.3 L455.0,226.0 L456.2,226.7 L457.4,227.4 L458.6,228.1 L459.7,228.8 L460.9,229.5 L462.1,230.2 L463.2,230.9 L464.4,231.6 L465.5,232.3 L466.6,233.1 L467.8,233.8 L468.9,234.5 L470.1,235.2 L471.2,235.9 L472.3,236.6 L473.4,237.4 L474.6,238.1 L475.7,238.8 L476.8,239.6 L477.9,240.3 L479.0,241.0 L480.1,241.8 L481.2,242.5 L482.3,243.3 L483.4,244.0 L484.5,244.8 L485.6,245.5 L486.7,246.3 L487.8,247.0 L488.9,247.8 L490.0,248.5 L491.0,249.3 L492.1,250.1 L493.2,250.9 L494.3,251.6 L495.4,252.4 L496.5,253.2 L497.5,254.0 L498.6,254.7 L499.7,255.5 L500.8,256.3 L501.9,257.1 L503.0,257.9 L504.1,258.6 L505.1,259.4 L506.2,260.2 L507.3,260.9 L508.4,261.7 L509.5,262.4 L510.6,263.2 L511.7,264.0 L512.9,264.7 L514.0,265.4 L515.1,266.2 L516.2,266.9 L517.3,267.6 L518.5,268.3 L519.6,269.0 L520.7,269.7 L521.9,270.4 L523.0,271.1 L524.2,271.8 L525.3,272.5 L526.5,273.2 L527.7,273.8 L528.8,274.5 L530.0,275.1 L531.2,275.8 L532.3,276.4 L533.5,277.1 L534.7,277.7 L535.9,278.3 L537.1,278.9 L538.3,279.5 L539.5,280.1 L540.7,280.7 L541.9,281.3 L543.1,281.9 L544.3,282.5 L545.5,283.0 L546.7,283.6 L548.0,284.1 L549.2,284.7 L550.4,285.2 L551.6,285.8 L552.9,286.3 L554.1,286.8 L555.4,287.3 L556.6,287.8 L557.8,288.3 L559.1,288.8 L560.3,289.3 L561.6,289.8 L562.9,290.2 L564.1,290.7 L565.4,291.1 L566.6,291.6 L567.9,292.0 L569.2,292.5 L570.5,292.9 L571.7,293.3 L573.0,293.7 L574.3,294.1 L575.6,294.5 L576.9,294.9 L578.1,295.3 L579.4,295.6 L580.7,296.0 L582.0,296.4 L583.3,296.7 L584.6,297.1 L585.9,297.4 L587.2,297.7 L588.5,298.0 L589.8,298.4 L591.1,298.7 L592.4,299.0 L593.7,299.2 L595.1,299.5 L596.4,299.8 L597.7,300.1 L599.0,300.3 L600.3,300.6 L601.6,300.8 L603.0,301.0 L604.3,301.3 L605.6,301.5 L606.9,301.7 L608.3,301.9 L609.6,302.1 L610.9,302.3 L612.3,302.4 L613.6,302.6 L614.9,302.8 L616.3,302.9 L617.6,303.1 L618.9,303.2 L620.3,303.3 L621.6,303.4 L622.9,303.5 L624.3,303.6 L625.6,303.7 L627.0,303.8 L628.3,303.9 L629.7,304.0 L631.0,304.0 L632.4,304.1 L633.7,304.1"/>
<text class="t" text-anchor="end" x="100.2" y="310.9">0</text>
<text class="t" text-anchor="end" x="100.2" y="273.0">0,1</text>
<text class="t" text-anchor="end" x="100.2" y="233.0">0,2</text>
<text class="t" text-anchor="end" x="100.2" y="193.3">0,3</text>
<text class="t" text-anchor="end" x="100.2" y="153.6">0,4</text>
<text class="t" text-anchor="end" x="100.2" y="113.7">0,5</text>
<text class="t" text-anchor="end" x="100.2" y="74.2">0,6</text>
<text class="t" text-anchor="end" x="100.2" y="34.3">0,7</text>
<text class="t" text-anchor="middle" x="119.4" y="333.5">15</text>
<text class="t" text-anchor="middle" x="228.8" y="333.5">17</text>
<text class="t" text-anchor="middle" x="337.9" y="333.5">19</text>
<text class="t" text-anchor="middle" x="446.7" y="333.5">21</text>
<text class="t" text-anchor="middle" x="555.3" y="333.5">23</text>
<text class="t" text-anchor="middle" x="663.7" y="333.5">25</text>
<rect x="19" y="444.6" width="31.2" height="30.9" fill="#ed1c24"/>
<text class="l" transform="translate(56.8,470.90000000000003) scale(0.802,1)">Spray Injector (Over 6 bar)</text>
<rect x="19" y="486.3" width="31.2" height="30.9" fill="#00adef"/>
<text class="l" transform="translate(56.8,512.6) scale(0.802,1)">Spray Injector (4 bar)</text>
<rect x="19" y="528" width="31.2" height="30.9" fill="#49b548"/>
<text class="l" transform="translate(56.8,554.3) scale(0.802,1)">Spray Injector (2 bar)</text>
<rect x="381.8" y="444.6" width="31.2" height="30.9" fill="#faab18"/>
<text class="l" transform="translate(419.6,470.90000000000003) scale(0.802,1)">Injector A</text>
<rect x="381.8" y="486.3" width="31.2" height="30.9" fill="#d28bbb"/>
<text class="l" transform="translate(419.6,512.6) scale(0.802,1)">Injector B</text>
<rect x="381.8" y="528" width="31.2" height="30.9" fill="#231f20"/>
<text class="l" transform="translate(419.6,554.3) scale(0.802,1)">Injector C</text>
</g>
</svg>
</body></html>
